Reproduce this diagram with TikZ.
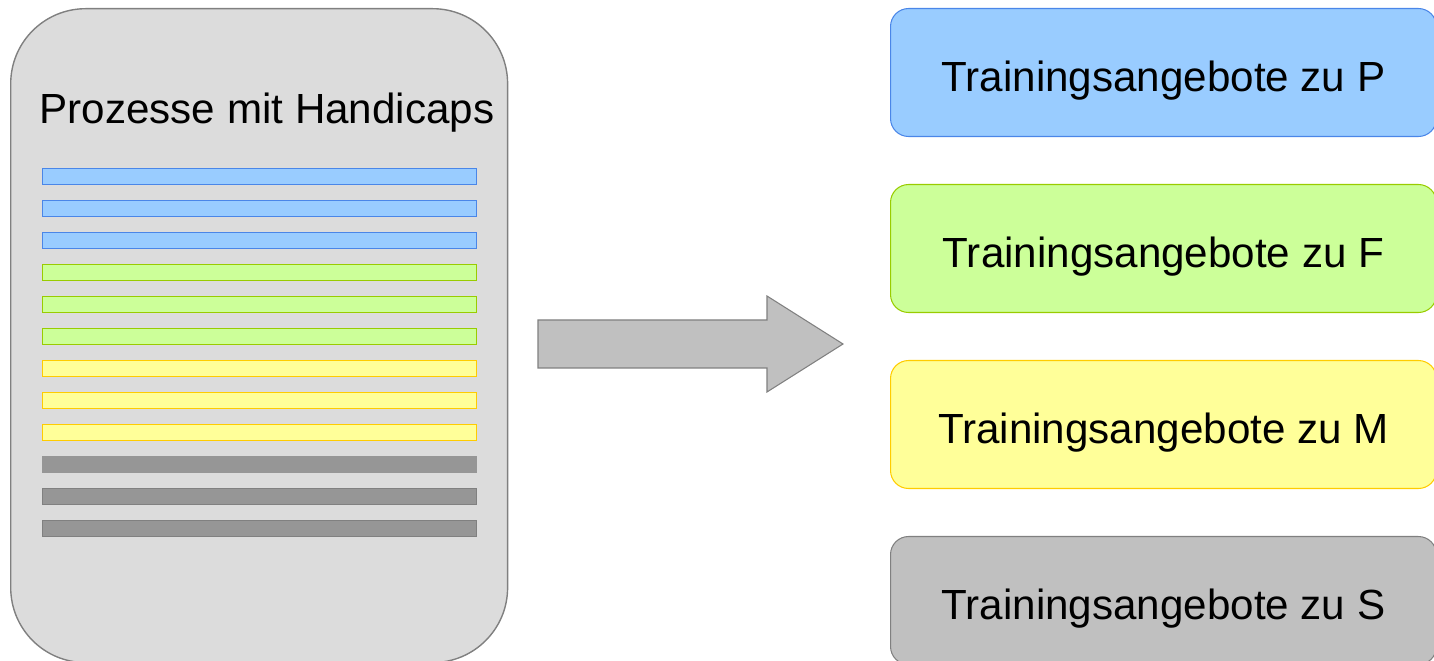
\documentclass[tikz,border=0pt]{standalone}
\usepackage{fontspec}
\setmainfont{Liberation Sans}
\usepackage{tikz}
\usetikzlibrary{positioning,calc}
\definecolor{bluefill}{RGB}{153,204,255}
\definecolor{blueline}{RGB}{74,134,232}
\definecolor{greenfill}{RGB}{204,255,153}
\definecolor{greenline}{RGB}{153,204,0}
\definecolor{yellowfill}{RGB}{255,255,153}
\definecolor{yellowline}{RGB}{255,204,0}
\definecolor{grayfill}{RGB}{192,192,192}
\definecolor{grayline}{RGB}{128,128,128}
\definecolor{stripegray}{RGB}{150,150,150}
\definecolor{panelfill}{RGB}{220,220,220}
\tikzstyle{every node}=[font=\fontsize{24}{28}\selectfont]
\tikzstyle{panel}=[draw=grayline, fill=panelfill, rounded corners=1.5cm, line width=0.8pt, anchor=north west, minimum width=9.94cm, minimum height=13.08cm, inner sep=0pt]
\tikzstyle{stripe}=[line width=0.6pt, anchor=north west, minimum width=8.68cm, minimum height=0.32cm, inner sep=0pt]
\tikzstyle{offer}=[line width=0.6pt, rounded corners=0.36cm, anchor=north west, minimum width=10.92cm, minimum height=2.56cm, inner sep=0pt, text height=0.76cm, text depth=0pt]
\tikzstyle{blockarrow}=[draw=grayline, fill=grayfill, line width=0.6pt, line join=miter]

\begin{document}
\begin{tikzpicture}[x=0.02cm, y=-0.02cm]
\def\stripesep{32}
\def\offersep{176}

    \useasboundingbox (0,0) rectangle (1434,661);

    \node[panel] (proc) at (10,8) {};
    \node[anchor=base] (proc-title) at (267,124) {Prozesse mit Handicaps};

    \foreach \i / \fc / \lc in {0/bluefill/blueline, 1/bluefill/blueline, 2/bluefill/blueline,
        3/greenfill/greenline, 4/greenfill/greenline, 5/greenfill/greenline,
        6/yellowfill/yellowline, 7/yellowfill/yellowline, 8/yellowfill/yellowline,
        9/stripegray/stripegray, 10/stripegray/grayline, 11/stripegray/grayline}
        \node[stripe, draw=\lc, fill=\fc] (S-\i) at (42,168 + \stripesep * \i) {};

    % arrow to the offers
    \coordinate (A-tail) at (538,344);
    \coordinate (A-tip) at (843,344);
    \draw[blockarrow] ($(A-tail)+(0,-24)$) -- ($(A-tip)+(-76,-24)$) -- ($(A-tip)+(-76,-48)$)
        -- (A-tip) -- ($(A-tip)+(-76,48)$) -- ($(A-tip)+(-76,24)$) -- ($(A-tail)+(0,24)$) -- cycle;

    \foreach \k / \fc / \lc / \letter in {0/bluefill/blueline/P, 1/greenfill/greenline/F,
        2/yellowfill/yellowline/M, 3/grayfill/grayline/S}
        \node[offer, draw=\lc, fill=\fc] (T-\k) at (890,8 + \offersep * \k) {Trainingsangebote zu \letter};

\end{tikzpicture}
\end{document}
